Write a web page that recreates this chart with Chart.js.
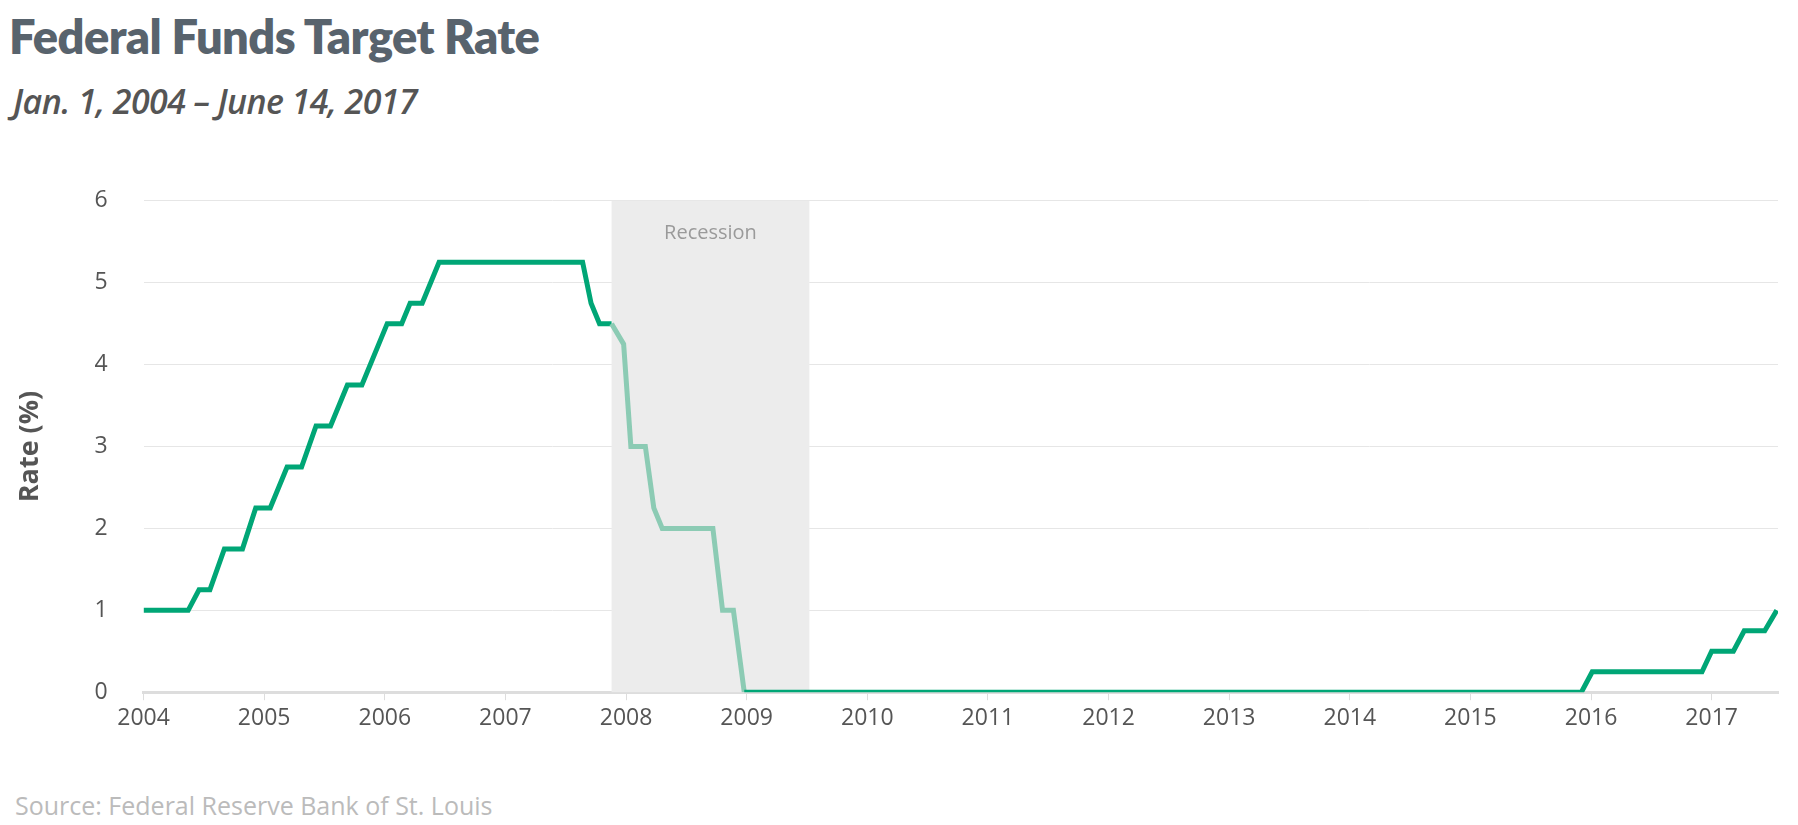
<!DOCTYPE html>
<html>
<head>
  <meta charset="UTF-8">
  <title>Federal Funds Target Rate</title>
  <script src="https://cdn.jsdelivr.net/npm/chart.js"></script>
  <style>
    body { margin: 0; background: #fff; font-family: "Open Sans", sans-serif; }
    #title { position: absolute; left: 9px; top: 8px; font-family: "Lato", sans-serif; font-weight: 800; font-size: 47px; color: #58636d; letter-spacing: -0.6px; }
    #sub { position: absolute; left: 13px; top: 78px; font-style: italic; font-weight: 600; font-size: 34px; color: #555; letter-spacing: -0.6px; }
    #wrap { position: absolute; left: 0; top: 151px; width: 1798px; height: 591px; }
    #source { position: absolute; left: 15px; top: 788px; font-size: 25px; color: #bbb; }
  </style>
</head>
<body>
  <div id="title">Federal Funds Target Rate</div>
  <div id="sub">Jan. 1, 2004 – June 14, 2017</div>
  <div id="wrap"><canvas id="chart"></canvas></div>
  <div id="source">Source: Federal Reserve Bank of St. Louis</div>

  <script>
    // points (decimal years, percent)
    const years = [2004, 2004.37, 2004.46, 2004.55, 2004.67, 2004.82, 2004.93, 2005.05, 2005.19, 2005.31,
      2005.43, 2005.55, 2005.69, 2005.81, 2006.02, 2006.14, 2006.21, 2006.31, 2006.45, 2007.64,
      2007.71, 2007.78, 2007.88, 2007.98, 2008.04, 2008.16, 2008.23, 2008.3, 2008.72, 2008.8,
      2008.89, 2008.98, 2015.92, 2016.01, 2016.92, 2017.0, 2017.18, 2017.27, 2017.44, 2017.54];
    const rates = [1, 1, 1.25, 1.25, 1.75, 1.75, 2.25, 2.25, 2.75, 2.75,
      3.25, 3.25, 3.75, 3.75, 4.5, 4.5, 4.75, 4.75, 5.25, 5.25,
      4.75, 4.5, 4.5, 4.25, 3, 3, 2.25, 2, 2, 1,
      1, 0, 0, 0.25, 0.25, 0.5, 0.5, 0.75, 0.75, 1];
    const recession = [2007.88, 2009.52];
    const yearTicks = [2004, 2005, 2006, 2007, 2008, 2009, 2010, 2011, 2012, 2013, 2014, 2015, 2016, 2017];

    const inRec = x => x >= recession[0] - 0.1 && x < 2008.95;

    const recessionPlugin = {
      id: 'recession',
      beforeDatasetsDraw(chart) {
        const { ctx, chartArea, scales } = chart;
        const x0 = scales.x.getPixelForValue(recession[0]);
        const x1 = scales.x.getPixelForValue(recession[1]);
        ctx.save();
        ctx.fillStyle = '#ececec';
        ctx.fillRect(x0, chartArea.top, x1 - x0, chartArea.bottom - chartArea.top);
        ctx.fillStyle = '#9a9a9a';
        ctx.font = '20px "Open Sans"';
        ctx.textAlign = 'center';
        ctx.fillText('Recession', (x0 + x1) / 2, chartArea.top + 38);
        ctx.restore();
      }
    };

    new Chart(document.getElementById('chart'), {
      type: 'line',
      data: {
        datasets: [{
          data: years.map((x, i) => ({ x: x, y: rates[i] })),
          borderColor: '#00a676',
          borderWidth: 5,
          pointRadius: 0,
          tension: 0,
          segment: {
            borderColor: c => inRec(c.p0.parsed.x) ? '#8ccbb4' : '#00a676'
          }
        }]
      },
      options: {
        animation: false,
        responsive: true,
        maintainAspectRatio: false,
        layout: { padding: { left: 10, right: 20, top: 20, bottom: 0 } },
        plugins: { legend: { display: false }, tooltip: { enabled: false } },
        scales: {
          x: {
            type: 'linear',
            min: 2004,
            max: 2017.55,
            afterBuildTicks: axis => { axis.ticks = yearTicks.map(v => ({ value: v })); },
            ticks: { callback: v => String(v), color: '#555', font: { family: 'Open Sans', size: 23 }, maxRotation: 0, padding: 4 },
            grid: { display: true, drawOnChartArea: false, drawTicks: true, tickLength: 8, color: '#ddd' },
            border: { color: '#ddd', width: 3 }
          },
          y: {
            min: 0,
            max: 6,
            ticks: { stepSize: 1, color: '#555', font: { family: 'Open Sans', size: 23 }, padding: 36 },
            grid: { color: '#e6e6e6', drawTicks: false },
            border: { display: false },
            title: { display: true, text: 'Rate (%)', color: '#555', font: { family: 'Open Sans', size: 27, weight: 'bold' }, padding: { bottom: 12 } }
          }
        }
      },
      plugins: [recessionPlugin]
    });
  </script>
</body>
</html>
